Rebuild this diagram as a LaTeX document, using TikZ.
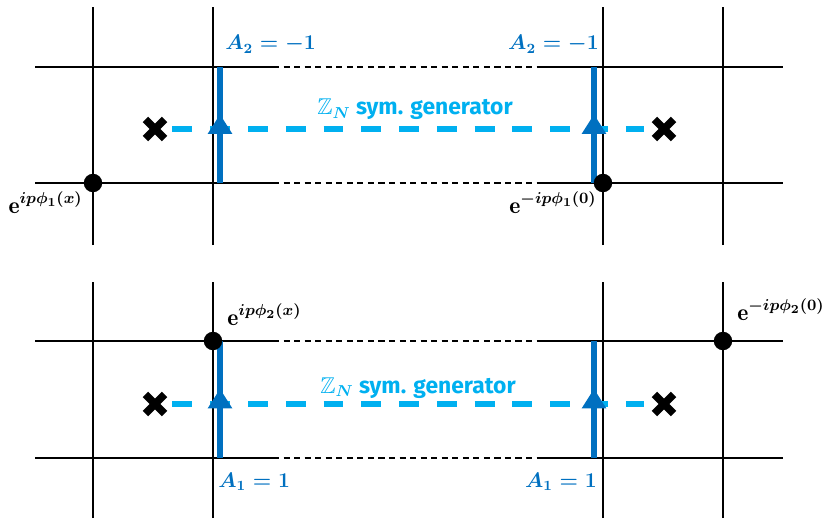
\documentclass[tikz,border=0pt]{standalone}
\usepackage{amsmath,amssymb}
\usepackage{fontspec}
\setsansfont{Fira Sans}
\usetikzlibrary{calc,positioning,shapes.misc}
\definecolor{LinkBlue}{HTML}{0070C0}
\definecolor{SymCyan}{HTML}{00B0F0}

% upward triangle half way along a gauge line
\newcommand{\gaugearrow}[2]{%
  \fill[LinkBlue] ($(#1)!0.5!(#2)$) +(-7pt,-5pt) -- +(0pt,6pt) -- +(7pt,-5pt) -- cycle;}

\tikzset{
  grid line/.style={black, line width=1.1pt},
  gap line/.style={black, line width=0.8pt, dash pattern=on 3.5pt off 2.5pt},
  gauge line/.style={LinkBlue, line width=3.1pt},
  sym line/.style={SymCyan, line width=3pt, dash pattern=on 11.3pt off 10.2pt},
  defect/.style={cross out, draw=black, line width=4.4pt, minimum size=6.5pt, inner sep=0pt},
  vertex/.style={circle, fill=black, minimum size=10.5pt, inner sep=0pt},
  gauge label/.style={LinkBlue, inner sep=0pt, font=\fontsize{12}{14}\selectfont},
  op label/.style={black, inner sep=0pt, font=\fontsize{13.5}{15}\selectfont},
  sym label/.style={SymCyan, inner sep=0pt, font=\sffamily\bfseries\fontsize{13}{15}\selectfont},
}

\begin{document}
\begin{tikzpicture}[x=0.02cm, y=0.02cm]
    \useasboundingbox (0,0) rectangle (827,518);

    % ===== Top panel =====
    % Lattice lines
    \draw[grid line] (93,273) -- (93,511);
    \draw[grid line] (213,273) -- (213,511);
    \draw[grid line] (603,273) -- (603,511);
    \draw[grid line] (723,273) -- (723,511);
    \draw[grid line] (35,451) -- (273,451);
    \draw[gap line] (273,451) -- (540,451);
    \draw[grid line] (540,451) -- (783,451);
    \draw[grid line] (35,335) -- (273,335);
    \draw[gap line] (273,335) -- (540,335);
    \draw[grid line] (540,335) -- (783,335);

    % Symmetry generator between the two defects
    \node[defect] (xa) at (155,389) {};
    \node[defect] (xb) at (664,389) {};
    \draw[sym line] ([xshift=4.5pt]xa.east) -- ([xshift=-6pt]xb.west);
    \node[sym label, anchor=base] (gena) at (415,403) {$\mathbb{Z}_{\boldsymbol{N}}$ sym. generator};

    % Gauge field lines
    \coordinate (ga1) at (220,335);
    \coordinate (ga2) at (220,451);
    \coordinate (gb1) at (594,335);
    \coordinate (gb2) at (594,451);
    \draw[gauge line] (ga1) -- (ga2);
    \draw[gauge line] (gb1) -- (gb2);
    \gaugearrow{ga1}{ga2}
    \gaugearrow{gb1}{gb2}
    \node[gauge label, anchor=base west] (aa) at ($(ga2)+(5,17)$) {$\boldsymbol{A_2 = -1}$};
    \node[gauge label, anchor=base east] (ab) at ($(gb2)+(5,17)$) {$\boldsymbol{A_2 = -1}$};

    % Vertex operators
    \node[vertex] (va) at (93,335) {};
    \node[vertex] (vb) at (603,335) {};
    \node[op label, anchor=base east] (opa) at ($(va)+(-10,-30)$) {$\mathbf{e}^{\boldsymbol{ip\phi_1(x)}}$};
    \node[op label, anchor=base east] (opb) at ($(vb)+(-6,-30)$) {$\mathbf{e}^{\boldsymbol{-ip\phi_1(0)}}$};

    % ===== Bottom panel =====
    % Lattice lines
    \draw[grid line] (93,0) -- (93,236);
    \draw[grid line] (213,0) -- (213,236);
    \draw[grid line] (603,0) -- (603,236);
    \draw[grid line] (723,0) -- (723,236);
    \draw[grid line] (35,177) -- (273,177);
    \draw[gap line] (273,177) -- (540,177);
    \draw[grid line] (540,177) -- (783,177);
    \draw[grid line] (35,60) -- (273,60);
    \draw[gap line] (273,60) -- (540,60);
    \draw[grid line] (540,60) -- (783,60);

    % Symmetry generator between the two defects
    \node[defect] (xc) at (155,114) {};
    \node[defect] (xd) at (664,114) {};
    \draw[sym line] ([xshift=4.5pt]xc.east) -- ([xshift=-6pt]xd.west);
    \node[sym label, anchor=base] (genb) at (418,125) {$\mathbb{Z}_{\boldsymbol{N}}$ sym. generator};

    % Gauge field lines
    \coordinate (gc1) at (220,60);
    \coordinate (gc2) at (220,177);
    \coordinate (gd1) at (594,60);
    \coordinate (gd2) at (594,177);
    \draw[gauge line] (gc1) -- (gc2);
    \draw[gauge line] (gd1) -- (gd2);
    \gaugearrow{gc1}{gc2}
    \gaugearrow{gd1}{gd2}
    \node[gauge label, anchor=base west] (ac) at ($(gc1)+(-2,-29)$) {$\boldsymbol{A_1 = 1}$};
    \node[gauge label, anchor=base east] (ad) at ($(gd1)+(3,-29)$) {$\boldsymbol{A_1 = 1}$};

    % Vertex operators
    \node[vertex] (vc) at (213,177) {};
    \node[vertex] (vd) at (723,177) {};
    \node[op label, anchor=base west] (opc) at ($(vc)+(14,16)$) {$\mathbf{e}^{\boldsymbol{ip\phi_2(x)}}$};
    \node[op label, anchor=base west] (opd) at ($(vd)+(14,21)$) {$\mathbf{e}^{\boldsymbol{-ip\phi_2(0)}}$};

\end{tikzpicture}
\end{document}
